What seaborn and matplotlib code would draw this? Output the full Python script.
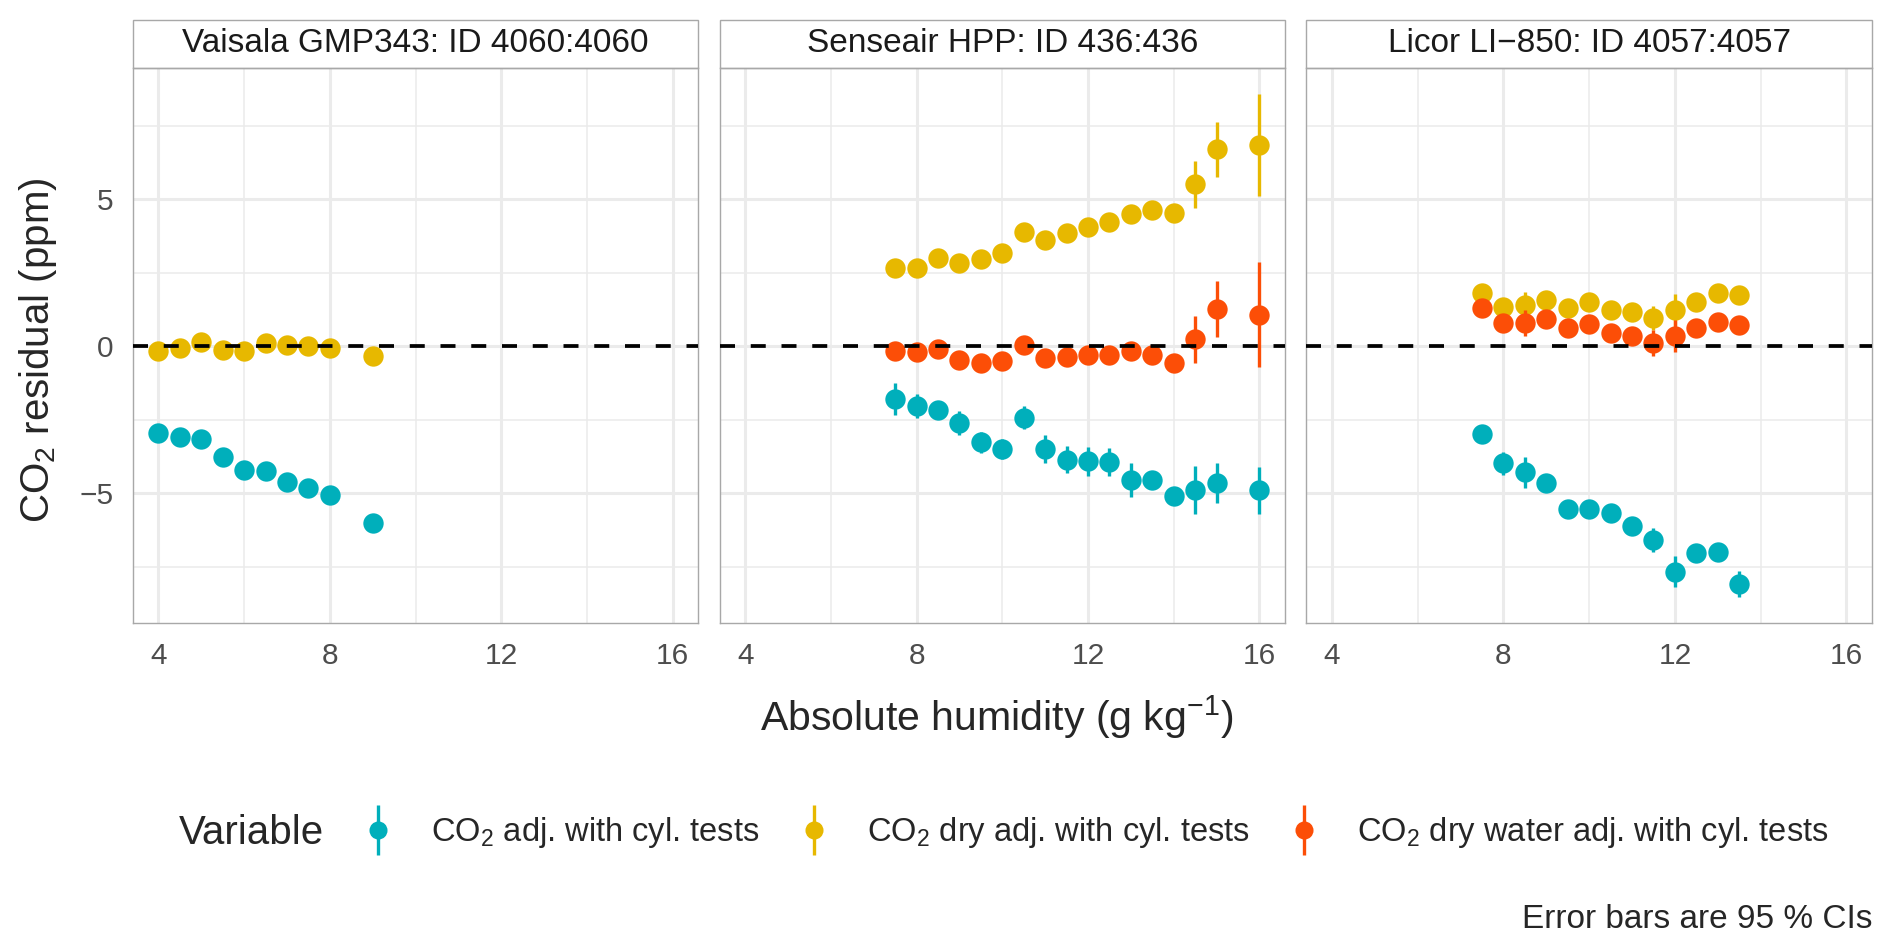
import numpy as np
import pandas as pd
import matplotlib
matplotlib.use("Agg")
import matplotlib.pyplot as plt
from matplotlib.lines import Line2D
from matplotlib.patches import Rectangle
from matplotlib.ticker import FixedLocator
import seaborn as sns

# ---- data ----
sensors = [
    "Vaisala GMP343: ID 4060:4060",
    "Senseair HPP: ID 436:436",
    "Licor LI\u2212850: ID 4057:4057",
]
var_order = ["co2", "co2_dry", "co2_dry_water"]
var_labels = [
    "CO$_2$ adj. with cyl. tests",
    "CO$_2$ dry adj. with cyl. tests",
    "CO$_2$ dry water adj. with cyl. tests",
]
colors = ["#00AFBB", "#E7B800", "#FC4E07"]

# Vaisala
vai_x = [4, 4.5, 5, 5.5, 6, 6.5, 7, 7.5, 8, 9]
vai_co2 = [-2.94, -3.08, -3.17, -3.77, -4.23, -4.26, -4.63, -4.84, -5.08, -6.01]
vai_co2_ci = [0.15, 0.15, 0.15, 0.15, 0.15, 0.15, 0.15, 0.15, 0.15, 0.15]
vai_dry = [-0.16, -0.06, 0.15, -0.15, -0.18, 0.10, 0.02, 0.0, -0.06, -0.34]
vai_dry_ci = [0.1, 0.1, 0.1, 0.1, 0.1, 0.1, 0.1, 0.1, 0.1, 0.1]

# Senseair
hpp_x = [7.5, 8, 8.5, 9, 9.5, 10, 10.5, 11, 11.5, 12, 12.5, 13, 13.5, 14, 14.5, 15, 16]
hpp_co2 = [-1.81, -2.03, -2.18, -2.62, -3.27, -3.50, -2.43, -3.50, -3.86,
           -3.92, -3.95, -4.57, -4.54, -5.11, -4.89, -4.65, -4.91]
hpp_co2_ci = [0.55, 0.40, 0.30, 0.40, 0.35, 0.35, 0.38, 0.49, 0.47,
              0.49, 0.47, 0.58, 0.25, 0.25, 0.82, 0.68, 0.80]
hpp_dry = [2.65, 2.67, 2.99, 2.82, 2.96, 3.16, 3.87, 3.61, 3.86,
           4.04, 4.23, 4.51, 4.63, 4.54, 5.50, 6.69, 6.85]
hpp_dry_ci = [0.2, 0.2, 0.2, 0.2, 0.2, 0.2, 0.25, 0.25, 0.25,
              0.25, 0.25, 0.25, 0.25, 0.25, 0.80, 0.93, 1.74]
hpp_wat = [-0.17, -0.20, -0.11, -0.47, -0.56, -0.51, 0.03, -0.40, -0.36,
           -0.32, -0.32, -0.17, -0.32, -0.56, 0.23, 1.26, 1.07]
hpp_wat_ci = [0.2, 0.2, 0.25, 0.2, 0.2, 0.2, 0.25, 0.25, 0.25,
              0.25, 0.25, 0.30, 0.25, 0.25, 0.81, 0.94, 1.78]

# Licor
lic_x = [7.5, 8, 8.5, 9, 9.5, 10, 10.5, 11, 11.5, 12, 12.5, 13, 13.5]
lic_co2 = [-3.00, -3.99, -4.30, -4.67, -5.54, -5.54, -5.69, -6.11, -6.60,
           -7.67, -7.05, -7.01, -8.09]
lic_co2_ci = [0.25, 0.40, 0.52, 0.25, 0.25, 0.25, 0.25, 0.25, 0.41,
              0.53, 0.25, 0.25, 0.45]
lic_dry = [1.81, 1.33, 1.41, 1.56, 1.28, 1.50, 1.22, 1.17, 0.96,
           1.24, 1.50, 1.79, 1.73]
lic_dry_ci = [0.2, 0.2, 0.44, 0.25, 0.2, 0.2, 0.2, 0.2, 0.42,
              0.54, 0.2, 0.2, 0.2]
lic_wat = [1.31, 0.77, 0.79, 0.93, 0.60, 0.76, 0.45, 0.34, 0.11,
           0.34, 0.60, 0.83, 0.71]
lic_wat_ci = [0.2, 0.2, 0.45, 0.25, 0.2, 0.2, 0.2, 0.2, 0.45,
              0.54, 0.2, 0.2, 0.2]


def block(sensor, var, x, y, ci):
    return pd.DataFrame({"sensor": sensor, "variable": var, "x": x, "y": y, "ci": ci})


df = pd.concat([
    block(sensors[0], "co2", vai_x, vai_co2, vai_co2_ci),
    block(sensors[0], "co2_dry", vai_x, vai_dry, vai_dry_ci),
    block(sensors[1], "co2", hpp_x, hpp_co2, hpp_co2_ci),
    block(sensors[1], "co2_dry", hpp_x, hpp_dry, hpp_dry_ci),
    block(sensors[1], "co2_dry_water", hpp_x, hpp_wat, hpp_wat_ci),
    block(sensors[2], "co2", lic_x, lic_co2, lic_co2_ci),
    block(sensors[2], "co2_dry", lic_x, lic_dry, lic_dry_ci),
    block(sensors[2], "co2_dry_water", lic_x, lic_wat, lic_wat_ci),
], ignore_index=True)

palette = dict(zip(var_order, colors))

# ---- style ----
sns.set_theme(style="white")
plt.rcParams["font.family"] = ["Liberation Sans", "DejaVu Sans"]
plt.rcParams["mathtext.fontset"] = "custom"
plt.rcParams["mathtext.rm"] = "Liberation Sans"
plt.rcParams["mathtext.it"] = "Liberation Sans:italic"
plt.rcParams["mathtext.bf"] = "Liberation Sans:bold"

W, H = 1892, 952
fig, axes = plt.subplots(1, 3, figsize=(W / 100, H / 100), dpi=100, sharey=True)
fig.subplots_adjust(left=132.7 / W, right=1872 / W, bottom=1 - 623 / H,
                    top=1 - 67.7 / H, wspace=0.0375)

border = "#A8A8A8"
strip_h = 47.7 / 555.3

for ax, sensor in zip(axes, sensors):
    sub = df[df["sensor"] == sensor]
    for i, var in enumerate(var_order):
        d = sub[sub["variable"] == var]
        if d.empty:
            continue
        ax.errorbar(d["x"], d["y"], yerr=d["ci"], fmt="none",
                    ecolor=palette[var], elinewidth=2.4, capsize=0, zorder=3 + 2 * i)
        sns.scatterplot(data=d, x="x", y="y", color=palette[var], s=215,
                        linewidth=0, ax=ax, zorder=4 + 2 * i)
    ax.axhline(0, color="black", lw=2.7, dashes=(4, 4.2), zorder=20)

    ax.set_xlim(3.4, 16.6)
    ax.set_ylim(-9.42, 9.47)
    ax.xaxis.set_major_locator(FixedLocator([4, 8, 12, 16]))
    ax.xaxis.set_minor_locator(FixedLocator([6, 10, 14]))
    ax.yaxis.set_major_locator(FixedLocator([-5, 0, 5]))
    ax.yaxis.set_minor_locator(FixedLocator([-7.5, -2.5, 2.5, 7.5]))
    ax.grid(which="major", color="#EBEBEB", lw=2.2, zorder=0)
    ax.grid(which="minor", color="#EBEBEB", lw=1.1, zorder=0)
    ax.set_axisbelow(True)
    ax.tick_params(which="both", length=0, labelsize=21.5, colors="#4D4D4D", pad=14)
    for sp in ax.spines.values():
        sp.set_color(border)
        sp.set_linewidth(1.0)
    ax.set_xlabel("")
    ax.set_ylabel("")

    ax.add_patch(Rectangle((0, 1), 1, strip_h, transform=ax.transAxes,
                           clip_on=False, facecolor="white", edgecolor=border, lw=1.0))
    ax.text(0.5, 1 + strip_h / 2, sensor, transform=ax.transAxes,
            ha="center", va="center", fontsize=24, color="#1A1A1A")

for ax in axes[1:]:
    ax.tick_params(axis="y", labelleft=False)

fig.text(997 / W, 1 - 717 / H, "Absolute humidity (g kg$^{-1}$)",
         ha="center", va="center", fontsize=29.5)
fig.text(38 / W, 1 - 350 / H, "CO$_2$ residual (ppm)", rotation=90,
         ha="center", va="center", fontsize=29)

# legend: point with vertical line like ggplot's pointrange key
handles = []
for c in colors:
    line = Line2D([], [], marker="|", markersize=36, markeredgewidth=2.4,
                  color=c, linestyle="none")
    dot = Line2D([], [], marker="o", markersize=13, color=c,
                 markeredgewidth=0, linestyle="none")
    handles.append((line, dot))

fig.text(179 / W, 1 - 833 / H, "Variable", ha="left", va="center", fontsize=29)
fig.legend(handles, var_labels, loc="center left",
           bbox_to_anchor=(361.7 / W, 1 - 833 / H), ncol=3, frameon=False,
           fontsize=23.5, handlelength=1.0, handletextpad=1.13,
           columnspacing=1.16, borderpad=0, borderaxespad=0)

fig.text(1872 / W, 1 - 920 / H, "Error bars are 95 % CIs",
         ha="right", va="center", fontsize=24)

fig.savefig("out.png", dpi=100)
